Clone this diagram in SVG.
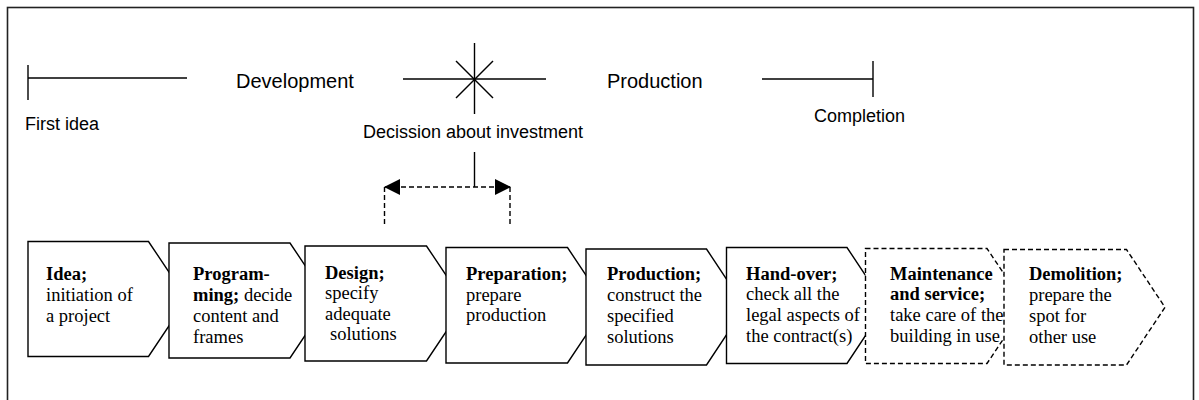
<svg xmlns="http://www.w3.org/2000/svg" width="1199" height="400" viewBox="0 0 1199 400">
<style>
.ln{stroke:#000;stroke-width:1.4;fill:none}
.dash{stroke:#000;stroke-width:1.4;fill:none;stroke-dasharray:5,3}
.box{stroke:#000;stroke-width:1.4;fill:#fff}
.dbox{stroke:#000;stroke-width:1.4;fill:#fff;stroke-dasharray:5,3}
.sans{font-family:"Liberation Sans",Arial,sans-serif;fill:#000}
.ser{font-family:"Liberation Serif","Times New Roman",serif;font-size:18.5px;fill:#000}
.b{font-weight:bold}
</style>
<defs>
<marker id="ah" viewBox="0 0 16 16" refX="15" refY="8" markerWidth="16" markerHeight="16" markerUnits="userSpaceOnUse" orient="auto-start-reverse">
<path d="M0,0 L16,8 L0,16 Z" fill="#000"/>
</marker>
</defs>
<rect x="0" y="0" width="1199" height="400" fill="#fff"/>
<rect x="7.5" y="7.5" width="1186" height="420" fill="none" stroke="#222" stroke-width="1.6"/>

<g id="timeline">
<line class="ln" x1="28" y1="65" x2="28" y2="100"/>
<line class="ln" x1="28" y1="78" x2="187" y2="78"/>
<text class="sans" x="236" y="88" font-size="20">Development</text>
<text class="sans" x="25" y="130" font-size="18">First idea</text>
<line class="ln" x1="403" y1="79" x2="546" y2="79"/>
<line class="ln" x1="474.5" y1="43" x2="474.5" y2="114"/>
<line class="ln" x1="456" y1="61" x2="493" y2="98"/>
<line class="ln" x1="493" y1="61" x2="456" y2="98"/>
<text class="sans" x="363" y="138" font-size="18">Decission about investment</text>
<text class="sans" x="607" y="88" font-size="20">Production</text>
<line class="ln" x1="762" y1="79" x2="873" y2="79"/>
<line class="ln" x1="873" y1="61" x2="873" y2="97"/>
<text class="sans" x="814" y="122" font-size="18">Completion</text>
</g>

<g id="connectors">
<line class="ln" x1="474.5" y1="152" x2="474.5" y2="187"/>
<line class="dash" x1="385" y1="187" x2="510" y2="187" marker-start="url(#ah)" marker-end="url(#ah)"/>
<line class="dash" x1="384.5" y1="187" x2="384.5" y2="224"/>
<line class="dash" x1="510" y1="187" x2="510" y2="224"/>
</g>

<g id="idea">
<polygon class="box" points="28,241.5 148.5,241.5 187,299 148.5,356.5 28,356.5"/>
<text class="ser" x="46" y="280"><tspan class="b">Idea;</tspan><tspan x="46" y="301">initiation of</tspan><tspan x="46" y="322">a project</tspan></text>
</g>
<g id="programming">
<polygon class="box" points="169,243 290,243 328.5,300.5 290,358 169,358"/>
<text class="ser" x="193" y="280"><tspan class="b">Program-</tspan><tspan x="193" y="301"><tspan class="b">ming;</tspan> decide</tspan><tspan x="193" y="322">content and</tspan><tspan x="193" y="343">frames</tspan></text>
</g>
<g id="design">
<polygon class="box" points="305,246 426.5,246 465,303.5 426.5,361 305,361"/>
<text class="ser" x="325" y="278.5"><tspan class="b">Design;</tspan><tspan x="325" y="299">specify</tspan><tspan x="325" y="319.5">adequate</tspan><tspan x="330" y="340">solutions</tspan></text>
</g>
<g id="preparation">
<polygon class="box" points="446,247.5 567.5,247.5 606,305.3 567.5,363 446,363"/>
<text class="ser" x="466" y="279.5"><tspan class="b">Preparation;</tspan><tspan x="466" y="300.5">prepare</tspan><tspan x="466" y="321">production</tspan></text>
</g>
<g id="production">
<polygon class="box" points="586,249 706.5,249 745,307 706.5,365 586,365"/>
<text class="ser" x="607" y="280"><tspan class="b">Production;</tspan><tspan x="607" y="301">construct the</tspan><tspan x="607" y="322">specified</tspan><tspan x="607" y="343">solutions</tspan></text>
</g>
<g id="handover">
<polygon class="box" points="726.5,247.5 847,247.5 885.5,305.5 847,363.5 726.5,363.5"/>
<text class="ser" x="746" y="279.5"><tspan class="b">Hand-over;</tspan><tspan x="746" y="300">check all the</tspan><tspan x="746" y="321">legal aspects of</tspan><tspan x="746" y="342">the contract(s)</tspan></text>
</g>
<g id="maintenance">
<polygon class="dbox" points="865.5,248.5 987,248.5 1025.5,306 987,363.5 865.5,363.5"/>
<text class="ser" x="890" y="279.5"><tspan class="b">Maintenance</tspan><tspan class="b" x="890" y="300">and service;</tspan><tspan x="890" y="321">take care of the</tspan><tspan x="890" y="342">building in use</tspan></text>
</g>
<g id="demolition">
<polygon class="dbox" points="1004,249.5 1126.5,249.5 1165,307.3 1126.5,365 1004,365"/>
<text class="ser" x="1029" y="280"><tspan class="b">Demolition;</tspan><tspan x="1029" y="301">prepare the</tspan><tspan x="1029" y="322">spot for</tspan><tspan x="1029" y="343">other use</tspan></text>
</g>
</svg>
